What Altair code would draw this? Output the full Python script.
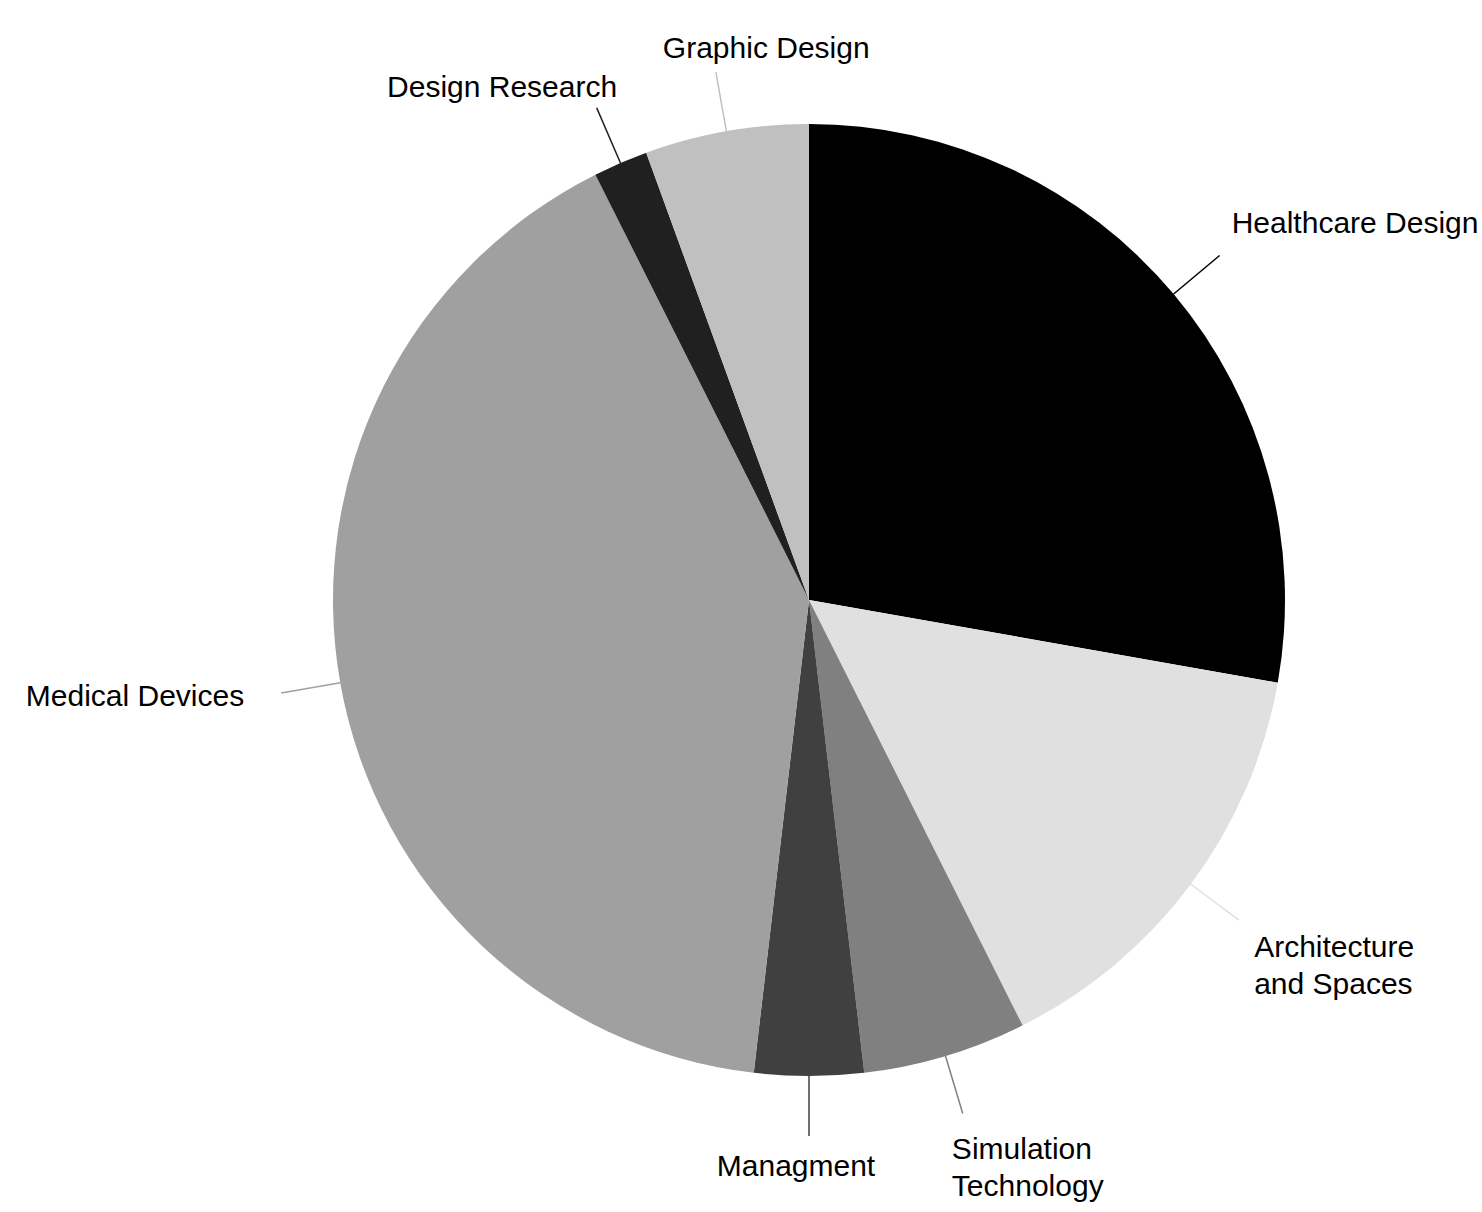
import math
import altair as alt
import pandas as pd

# ---- data ----
CATEGORIES = ["Healthcare Design", "Architecture and Spaces", "Simulation Technology",
              "Managment", "Medical Devices", "Design Research", "Graphic Design"]
LABELS = ["Healthcare Design", "Architecture\nand Spaces", "Simulation\nTechnology",
          "Managment", "Medical Devices", "Design Research", "Graphic Design"]
COUNTS = [15, 8, 3, 2, 22, 1, 3]
COLORS = ["#000000", "#e0e0e0", "#808080", "#404040", "#a0a0a0", "#202020", "#c0c0c0"]

df = pd.DataFrame({
    "category": CATEGORIES,
    "label": LABELS,
    "count": COUNTS,
    "order": list(range(len(CATEGORIES))),
})
total = sum(COUNTS)

# ---- layout ----
CX, CY = 809, 600
R = 476
R_LINE = 536
R_LABEL = 540
FONT = "Liberation Sans"
FONT_SIZE = 30

# label alignment and offsets relative to the leader line end
LABEL_LAYOUT = {
    "Healthcare Design": ("left", 9, -29),
    "Architecture and Spaces": ("left", 12, 26),
    "Simulation Technology": ("left", -12, 33),
    "Managment": ("center", -13, 27),
    "Medical Devices": ("right", -33, 3),
    "Design Research": ("center", -93, -16),
    "Graphic Design": ("center", 51, -19),
}

theta_scale = alt.Scale(domain=[0, total], range=[0, 2 * math.pi])
color_scale = alt.Scale(domain=CATEGORIES, range=COLORS)

base = alt.Chart(df).transform_window(
    cum="sum(count)", sort=[alt.SortField("order")], frame=[None, 0]
).transform_calculate(
    start="datum.cum - datum.count",
    mid="datum.cum - datum.count / 2",
)

wedges = base.mark_arc(radius=R).encode(
    x=alt.value(CX),
    y=alt.value(CY),
    theta=alt.Theta("start:Q", scale=theta_scale, stack=False),
    theta2=alt.Theta2("cum:Q"),
    color=alt.Color("category:N", scale=color_scale, legend=None),
)

leaders = base.mark_arc(radius=R_LINE, radius2=R, filled=False, strokeWidth=1.5).encode(
    x=alt.value(CX),
    y=alt.value(CY),
    theta=alt.Theta("mid:Q", scale=theta_scale, stack=False),
    theta2=alt.Theta2("mid:Q"),
    color=alt.Color("category:N", scale=color_scale, legend=None),
)

layers = [wedges, leaders]
for cat, (align, dx, dy) in LABEL_LAYOUT.items():
    layers.append(
        base.transform_filter(alt.datum.category == cat).mark_text(
            radius=R_LABEL, align=align, baseline="middle", dx=dx, dy=dy,
            font=FONT, fontSize=FONT_SIZE, lineBreak="\n", lineHeight=37, color="#000000",
        ).encode(
            x=alt.value(CX),
            y=alt.value(CY),
            theta=alt.Theta("mid:Q", scale=theta_scale, stack=False),
            text=alt.Text("label:N"),
        )
    )

chart = alt.layer(*layers).properties(
    width=1482, height=1212, padding=0, background="white",
    autosize=alt.AutoSizeParams(type="none"),
).configure_view(stroke=None)

chart.save("out.html", embed_options={"renderer": "svg", "actions": False})
